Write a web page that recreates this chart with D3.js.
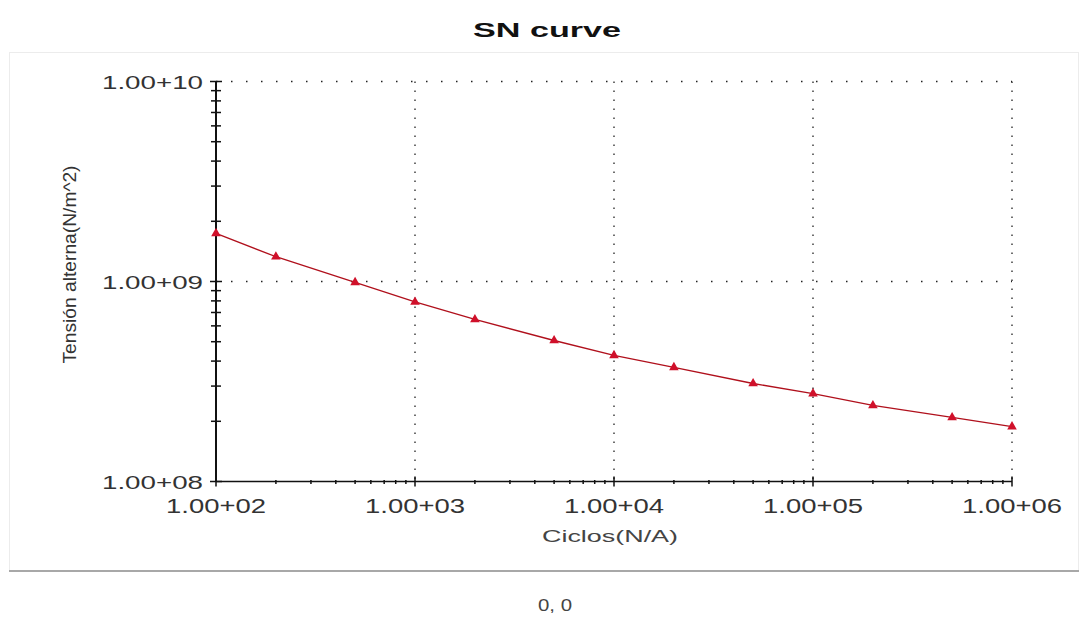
<!DOCTYPE html>
<html>
<head>
<meta charset="utf-8">
<script src="https://d3js.org/d3.v7.min.js"></script>
<style>
  body { margin: 0; background: #fff; }
  text { font-family: "Liberation Sans", Arial, sans-serif; }
</style>
</head>
<body>
<div id="chart"></div>
<script>
// Data
var ciclos = [100, 200, 500, 1000, 2000, 5000, 1e4, 2e4, 5e4, 1e5, 2e5, 5e5, 1e6];
var tension = [1.74e9, 1.33e9, 0.99e9, 7.9e8, 6.46e8, 5.07e8, 4.27e8, 3.72e8, 3.09e8, 2.75e8, 2.40e8, 2.09e8, 1.88e8];
var xTicks = [1e2, 1e3, 1e4, 1e5, 1e6];
var xTickLabels = ["1.00+02", "1.00+03", "1.00+04", "1.00+05", "1.00+06"];
var yTicks = [1e8, 1e9, 1e10];
var yTickLabels = ["1.00+08", "1.00+09", "1.00+10"];

var svgWidth = 1089;
var svgHeight = 617;

var margin = { top: 81.5, left: 216, right: 77, bottom: 135.5 };
var width = svgWidth - margin.left - margin.right;
var height = svgHeight - margin.top - margin.bottom;

var svg = d3.select("#chart")
  .append("svg")
  .attr("width", svgWidth)
  .attr("height", svgHeight);

// panel
svg.append("rect")
  .attr("x", 9.5).attr("y", 52.5)
  .attr("width", 1069).attr("height", 518)
  .attr("fill", "#fff")
  .attr("stroke", "#ececec");
svg.append("line")
  .attr("x1", 9).attr("x2", 1079)
  .attr("y1", 571).attr("y2", 571)
  .attr("stroke", "#a8a8a8").attr("stroke-width", 2);

// title
svg.append("text")
  .attr("x", 547).attr("y", 37)
  .attr("text-anchor", "middle")
  .attr("font-size", "20px").attr("font-weight", "bold")
  .attr("fill", "#111")
  .attr("textLength", 148).attr("lengthAdjust", "spacingAndGlyphs")
  .text("SN curve");

var chartGroup = svg.append("g")
  .attr("transform", `translate(${margin.left}, ${margin.top})`);

var xScale = d3.scaleLog().domain([1e2, 1e6]).range([0, width]);
var yScale = d3.scaleLog().domain([1e8, 1e10]).range([height, 0]);

// dotted grid
chartGroup.append("g").selectAll("line")
  .data(xTicks.slice(1))
  .enter().append("line")
  .attr("x1", d => xScale(d)).attr("x2", d => xScale(d))
  .attr("y1", 0).attr("y2", height)
  .attr("stroke", "#222").attr("stroke-width", 1.3)
  .attr("stroke-dasharray", "1.5,7.5");

chartGroup.append("g").selectAll("line")
  .data(yTicks.slice(1))
  .enter().append("line")
  .attr("x1", 0).attr("x2", width)
  .attr("y1", d => yScale(d)).attr("y2", d => yScale(d))
  .attr("stroke", "#222").attr("stroke-width", 1.3)
  .attr("stroke-dasharray", "1.5,13.5");

// minor ticks
var xMinor = xScale.ticks().filter(d => xTicks.indexOf(d) < 0);
var yMinor = yScale.ticks().filter(d => yTicks.indexOf(d) < 0);

chartGroup.append("g").selectAll("line")
  .data(xMinor)
  .enter().append("line")
  .attr("x1", d => xScale(d)).attr("x2", d => xScale(d))
  .attr("y1", height - 1.5).attr("y2", height + 2.5)
  .attr("stroke", "#111").attr("stroke-width", 1.5);

chartGroup.append("g").selectAll("line")
  .data(yMinor)
  .enter().append("line")
  .attr("x1", -5).attr("x2", 5)
  .attr("y1", d => yScale(d)).attr("y2", d => yScale(d))
  .attr("stroke", "#111").attr("stroke-width", 1.5);

// major ticks
chartGroup.append("g").selectAll("line")
  .data(xTicks)
  .enter().append("line")
  .attr("x1", d => xScale(d)).attr("x2", d => xScale(d))
  .attr("y1", height - 5).attr("y2", height + 5)
  .attr("stroke", "#111").attr("stroke-width", 1.5);

chartGroup.append("g").selectAll("line")
  .data(yTicks)
  .enter().append("line")
  .attr("x1", -6).attr("x2", 6)
  .attr("y1", d => yScale(d)).attr("y2", d => yScale(d))
  .attr("stroke", "#111").attr("stroke-width", 1.5);

// axis lines
chartGroup.append("line")
  .attr("x1", 0).attr("x2", width)
  .attr("y1", height).attr("y2", height)
  .attr("stroke", "#111").attr("stroke-width", 1.6);
chartGroup.append("line")
  .attr("x1", 0).attr("x2", 0)
  .attr("y1", 0).attr("y2", height)
  .attr("stroke", "#111").attr("stroke-width", 2);

// tick labels
chartGroup.append("g").selectAll("text")
  .data(xTicks)
  .enter().append("text")
  .attr("x", d => xScale(d))
  .attr("y", height + 31)
  .attr("text-anchor", "middle")
  .attr("font-size", "20px").attr("fill", "#333")
  .attr("textLength", 100).attr("lengthAdjust", "spacingAndGlyphs")
  .text((d, i) => xTickLabels[i]);

chartGroup.append("g").selectAll("text")
  .data(yTicks)
  .enter().append("text")
  .attr("x", -114)
  .attr("y", d => yScale(d) + 7)
  .attr("font-size", "19px").attr("fill", "#333")
  .attr("textLength", 101).attr("lengthAdjust", "spacingAndGlyphs")
  .text((d, i) => yTickLabels[i]);

// axis titles
chartGroup.append("text")
  .attr("x", xScale(1e4) - 4)
  .attr("y", height + 60)
  .attr("text-anchor", "middle")
  .attr("font-size", "16px").attr("fill", "#444")
  .attr("textLength", 136).attr("lengthAdjust", "spacingAndGlyphs")
  .text("Ciclos(N/A)");

chartGroup.append("text")
  .attr("transform", `translate(-140, ${height / 2 - 17}) rotate(-90)`)
  .attr("text-anchor", "middle")
  .attr("font-size", "19px").attr("fill", "#333")
  .attr("textLength", 198).attr("lengthAdjust", "spacingAndGlyphs")
  .text("Tensión alterna(N/m^2)");

// curve
var line = d3.line()
  .x((d, i) => xScale(ciclos[i]))
  .y(d => yScale(d));

chartGroup.append("path")
  .datum(tension)
  .attr("d", line)
  .attr("fill", "none")
  .attr("stroke", "#b0101c")
  .attr("stroke-width", 1.3);

chartGroup.append("g").selectAll("path")
  .data(tension)
  .enter().append("path")
  .attr("d", d3.symbol().type(d3.symbolTriangle).size(40))
  .attr("transform", (d, i) => `translate(${xScale(ciclos[i])}, ${yScale(d)})`)
  .attr("fill", "#d0102a");

// footer
svg.append("text")
  .attr("x", 555).attr("y", 611)
  .attr("text-anchor", "middle")
  .attr("font-size", "17px").attr("fill", "#444")
  .attr("textLength", 34).attr("lengthAdjust", "spacingAndGlyphs")
  .text("0, 0");
</script>
</body>
</html>
